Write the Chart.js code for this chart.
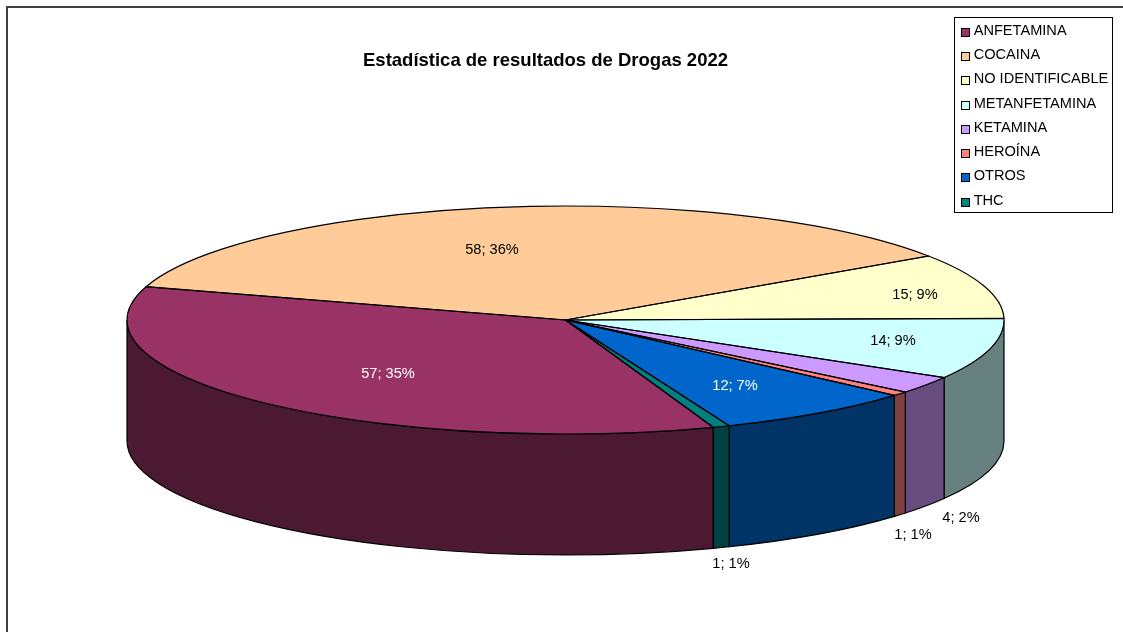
<!DOCTYPE html>
<html><head><meta charset="utf-8">
<style>html,body{margin:0;padding:0;background:#fff}#w{width:1123px;height:632px}canvas{display:block}</style>
<script src="https://cdn.jsdelivr.net/npm/chart.js@4"></script></head>
<body><div id="w"><canvas id="c" width="1123" height="632"></canvas></div>
<script>
const categories = ['ANFETAMINA','COCAINA','NO IDENTIFICABLE','METANFETAMINA','KETAMINA','HEROÍNA','OTROS','THC'];
const counts = [57,58,15,14,4,1,12,1];
const percents = [35,36,9,9,2,1,7,1];
const topColors = ['#993366','#FFCC99','#FFFFCC','#CCFFFF','#CC99FF','#FF8080','#0066CC','#008080'];
const sideColors = ['#4C1933','#7F664C','#7F7F66','#667F7F','#664C7F','#7F4040','#003366','#004040'];
const labelColors = ['#fff','#000','#000','#000','#000','#000','#fff','#000'];
// label centres relative to the pie centre
const labelOffsets = [[-177.5,54],[-73.5,-70],[349.5,-25],[327.5,21],[395.5,198],[347.5,215],[169.5,66],[165.5,244]];
const titleText = 'Estadística de resultados de Drogas 2022';
const FONT = '"Liberation Sans", Arial, sans-serif';
const CX=565.5, CY=320, RX=438.5, RY=114, DEPTH=121;

const pie3d = {
  id:'pie3d',
  afterLayout(chart){
    const t=chart.titleBlock, l=chart.legend;
    t.left=363; t.right=728; t.top=50; t.bottom=72;
    const w=l.width,h=l.height;
    l.left=955.7; l.top=13.9; l.right=l.left+w; l.bottom=l.top+h;
  },
  beforeDatasetsDraw(chart){
    const ctx=chart.ctx, arcs=chart.getDatasetMeta(0).data;
    ctx.save();
    ctx.strokeStyle='#404040'; ctx.lineWidth=2;
    ctx.beginPath(); ctx.moveTo(7,632); ctx.lineTo(7,7); ctx.lineTo(1123,7); ctx.stroke();
    ctx.restore();
    arcs.forEach((a,i)=>{
      const p=a.getProps(['startAngle','endAngle']);
      const ranges=[[p.startAngle,p.endAngle],[p.startAngle-2*Math.PI,p.endAngle-2*Math.PI],[p.startAngle+2*Math.PI,p.endAngle+2*Math.PI]];
      ranges.forEach(([a0,a1])=>{
        const s=Math.max(a0,0), e=Math.min(a1,Math.PI);
        if(e<=s) return;
        ctx.save();
        ctx.beginPath();
        ctx.ellipse(CX,CY,RX,RY,0,s,e,false);
        ctx.ellipse(CX,CY+DEPTH,RX,RY,0,e,s,true);
        ctx.closePath();
        ctx.fillStyle=sideColors[i]; ctx.strokeStyle='#000'; ctx.lineWidth=1.2;
        ctx.fill(); ctx.stroke();
        ctx.restore();
      });
    });
    const a0=arcs[0];
    ctx.save();
    ctx.translate(CX,CY); ctx.scale(1,RY/RX); ctx.translate(-a0.x,-a0.y);
  },
  afterDatasetsDraw(chart){
    const ctx=chart.ctx, arcs=chart.getDatasetMeta(0).data;
    ctx.restore();
    arcs.forEach(a=>{
      const p=a.getProps(['startAngle','endAngle']);
      ctx.save();
      ctx.beginPath();
      ctx.moveTo(CX,CY);
      ctx.ellipse(CX,CY,RX,RY,0,p.startAngle,p.endAngle,false);
      ctx.closePath();
      ctx.strokeStyle='#000'; ctx.lineWidth=1.2; ctx.stroke();
      ctx.restore();
    });
    ctx.save();
    ctx.font='14.6px '+FONT; ctx.textAlign='center'; ctx.textBaseline='middle';
    arcs.forEach((a,i)=>{
      ctx.fillStyle=labelColors[i];
      ctx.fillText(counts[i]+'; '+percents[i]+'%',CX+labelOffsets[i][0],CY+labelOffsets[i][1]);
    });
    ctx.restore();
  },
  afterDraw(chart){
    const ctx=chart.ctx, l=chart.legend;
    ctx.save();
    ctx.strokeStyle='#000'; ctx.lineWidth=1;
    ctx.strokeRect(954.5,17.5,158,195);
    topColors.forEach((c,i)=>{
      const y=Math.round(l.legendHitBoxes[i].top+l.legendHitBoxes[i].height/2)+1.5;
      ctx.fillStyle=c;
      ctx.fillRect(961.5,y-4,8,8);
      ctx.strokeRect(961.5,y-4,8,8);
    });
    ctx.restore();
  }
};

new Chart(document.getElementById('c'),{
  type:'pie',
  data:{labels:categories,datasets:[{data:counts,backgroundColor:topColors,borderWidth:0,hoverOffset:0}]},
  options:{
    responsive:false,animation:false,
    radius:RX,
    rotation:160.3,
    plugins:{
      tooltip:{enabled:false},
      title:{display:true,text:titleText,color:'#000',font:{family:FONT,size:18.5,weight:'bold'},padding:0},
      legend:{position:'chartArea',align:'start',
        labels:{boxWidth:1,boxHeight:8,padding:9.65,color:'#000',font:{family:FONT,size:14.6},
          generateLabels(chart){
            return Chart.overrides.pie.plugins.legend.labels.generateLabels(chart).map(it=>({...it,fillStyle:'rgba(0,0,0,0)',strokeStyle:'rgba(0,0,0,0)',lineWidth:0}));
          }}}
    }
  },
  plugins:[pie3d]
});
</script></body></html>
